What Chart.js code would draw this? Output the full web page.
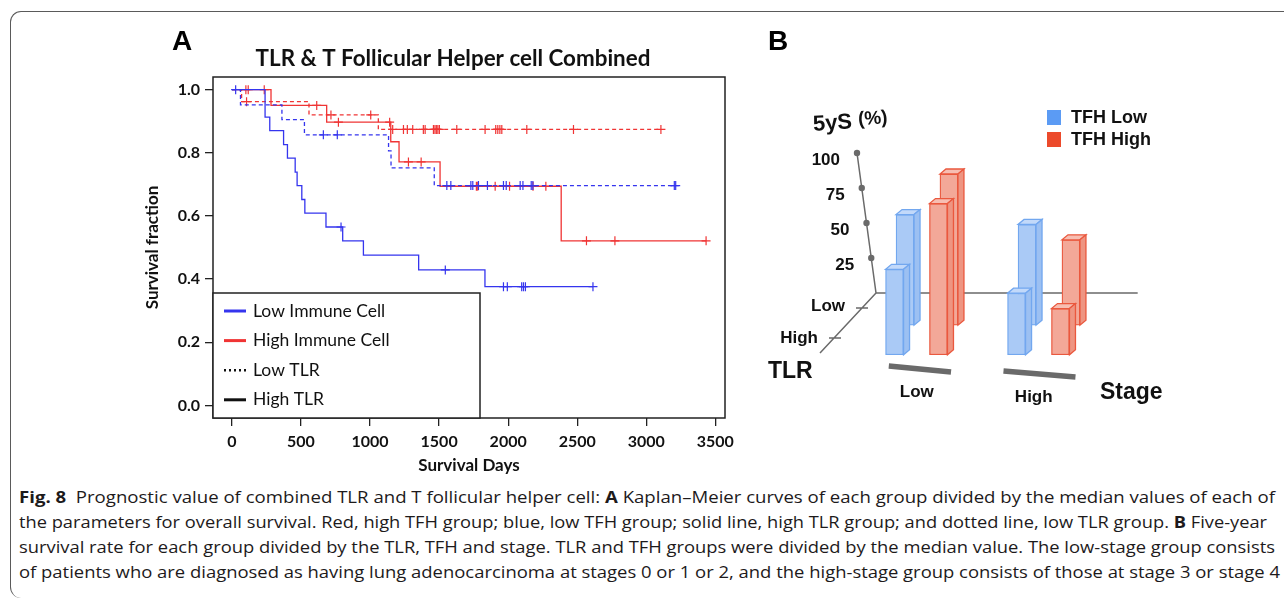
<!DOCTYPE html>
<html>
<head>
<meta charset="utf-8">
<script src="https://cdn.jsdelivr.net/npm/chart.js@4.4.1/dist/chart.umd.min.js"></script>
<style>
html, body { margin: 0; padding: 0; background: #fff; }
body { width: 1284px; height: 599px; position: relative; overflow: hidden; }
#frame { position: absolute; left: 10px; top: 11px; width: 1300px; height: 586px;
  border-left: 1.3px solid #5a5a5a; border-top: 1.3px solid #5a5a5a;
  border-top-left-radius: 11px; border-bottom-left-radius: 11px; }
#km { position: absolute; left: 0; top: 0; }
#bars { position: absolute; left: 740px; top: 0; }
.cap { position: absolute; left: 19px; white-space: nowrap; font-family: 'Open Sans', sans-serif;
  font-size: 15.5px; line-height: 20px; color: #1d1a1b; transform-origin: 0 50%; }
.cap b { font-weight: 700; }
</style>
</head>
<body>
<div id="frame"></div>
<canvas id="km" width="760" height="480"></canvas>
<canvas id="bars" width="544" height="420"></canvas>

<div class="cap" style="top:487px" data-w="1256"><b>Fig. 8</b>&nbsp; Prognostic value of combined TLR and T follicular helper cell: <b>A</b> Kaplan–Meier curves of each group divided by the median values of each of</div>
<div class="cap" style="top:512px" data-w="1248">the parameters for overall survival. Red, high TFH group; blue, low TFH group; solid line, high TLR group; and dotted line, low TLR group. <b>B</b> Five-year</div>
<div class="cap" style="top:537px" data-w="1256">survival rate for each group divided by the TLR, TFH and stage. TLR and TFH groups were divided by the median value. The low-stage group consists</div>
<div class="cap" style="top:562px" data-w="1261">of patients who are diagnosed as having lung adenocarcinoma at stages 0 or 1 or 2, and the high-stage group consists of those at stage 3 or stage 4</div>

<script>
// ---- Panel A: Kaplan–Meier curves ----
const xTicks = [0, 500, 1000, 1500, 2000, 2500, 3000, 3500];
const yTicks = [0, 0.2, 0.4, 0.6, 0.8, 1.0];

// blue solid: low TFH, high TLR
const lowTfhHighTlrDays = [0, 240, 274, 374, 402, 458, 472, 506, 528, 681, 802, 952, 1352, 1832, 2614];
const lowTfhHighTlrSurv = [1, 0.913, 0.870, 0.826, 0.783, 0.739, 0.696, 0.652, 0.609, 0.565, 0.521, 0.476, 0.429, 0.376, 0.376];
const lowTfhHighTlrCens = [27, 790, 1545, 1966, 1994, 2098, 2111, 2125, 2614];

// blue dashed: low TFH, low TLR
const lowTfhLowTlrDays = [0, 62, 362, 525, 1134, 1152, 1465, 3213];
const lowTfhLowTlrSurv = [1, 0.952, 0.905, 0.857, 0.806, 0.752, 0.696, 0.696];
const lowTfhLowTlrCens = [662, 763, 1556, 1585, 1730, 1744, 1785, 1850, 1966, 1986, 2087, 2107, 2167, 2179, 3203, 3213];

// red dashed: high TFH, low TLR
const highTfhLowTlrDays = [0, 70, 558, 1060, 3106];
const highTfhLowTlrSurv = [1, 0.962, 0.920, 0.874, 0.874];
const highTfhLowTlrCens = [106, 717, 1005, 1164, 1242, 1270, 1309, 1386, 1399, 1459, 1470, 1480, 1491, 1502,
  1628, 1833, 1910, 1925, 1940, 1954, 2135, 2473, 3106];

// red solid: high TFH, high TLR
const highTfhHighTlrDays = [0, 283, 686, 1150, 1210, 1507, 2384, 3433];
const highTfhHighTlrSurv = [1, 0.950, 0.897, 0.835, 0.771, 0.694, 0.521, 0.521];
const highTfhHighTlrCens = [101, 118, 234, 614, 771, 1142, 1278, 1370, 1770, 1780, 1906, 2010, 2180, 2273,
  2567, 2773, 3433];

const kmLegendNames = ['Low Immune Cell', 'High Immune Cell', 'Low TLR', 'High TLR'];

// ---- Panel B: five-year survival (%) by stage ----
const stages = ['Low', 'High'];
const tfhLowLowTlr = [56, 49];
const tfhHighLowTlr = [85, 38];
const tfhLowHighTlr = [49, 32];
const tfhHighHighTlr = [96, 21];
const survTicks = [25, 50, 75, 100];
const tfhNames = ['TFH Low', 'TFH High'];
const tlrNames = ['Low', 'High'];

Chart.defaults.font.family = 'Lato';
Chart.defaults.color = '#111';

const BLUE = '#3535ee';
const RED = '#f03434';

// survival value in effect at day t
function survAt(days, surv, t) {
  let s = surv[0];
  for (let i = 0; i < days.length; i++) if (days[i] <= t) s = surv[i];
  return s;
}

const groups = [
  { days: lowTfhHighTlrDays, surv: lowTfhHighTlrSurv, cens: lowTfhHighTlrCens, color: BLUE, dash: [] },
  { days: lowTfhLowTlrDays, surv: lowTfhLowTlrSurv, cens: lowTfhLowTlrCens, color: BLUE, dash: [4, 3] },
  { days: highTfhLowTlrDays, surv: highTfhLowTlrSurv, cens: highTfhLowTlrCens, color: RED, dash: [4, 3] },
  { days: highTfhHighTlrDays, surv: highTfhHighTlrSurv, cens: highTfhHighTlrCens, color: RED, dash: [] }
];

const kmDatasets = [];
groups.forEach(g => {
  kmDatasets.push({
    data: g.days.map((d, i) => ({ x: d, y: g.surv[i] })),
    showLine: true, stepped: 'before', borderColor: g.color, borderWidth: 1.3,
    borderDash: g.dash, pointRadius: 0
  });
  kmDatasets.push({
    data: g.cens.map(d => ({ x: d, y: survAt(g.days, g.surv, d) })),
    showLine: false, pointStyle: 'cross', pointRadius: 4.5, borderWidth: 1.2,
    borderColor: g.color, backgroundColor: g.color
  });
});

const kmDecor = {
  id: 'kmDecor',
  afterDatasetsDraw(chart) {
    const { ctx, chartArea: a } = chart;
    ctx.save();
    // plot frame
    ctx.strokeStyle = '#222';
    ctx.lineWidth = 1.5;
    ctx.strokeRect(a.left, a.top, a.right - a.left, a.bottom - a.top);

    // legend box in the lower-left corner
    const lx = a.left, ly = 293, lw = 267, lh = a.bottom - ly;
    ctx.fillStyle = '#fff';
    ctx.fillRect(lx, ly, lw, lh);
    ctx.strokeRect(lx, ly, lw, lh);
    const samples = [
      { c: BLUE, dash: [], w: 3 }, { c: RED, dash: [], w: 3 },
      { c: '#111', dash: [2, 3], w: 2.5 }, { c: '#111', dash: [], w: 3 }
    ];
    ctx.font = '17.5px Lato';
    ctx.textBaseline = 'middle';
    kmLegendNames.forEach((name, i) => {
      const y = ly + 18 + i * 29.6;
      ctx.beginPath();
      ctx.setLineDash(samples[i].dash);
      ctx.strokeStyle = samples[i].c;
      ctx.lineWidth = samples[i].w;
      ctx.moveTo(lx + 11, y);
      ctx.lineTo(lx + 33, y);
      ctx.stroke();
      ctx.setLineDash([]);
      ctx.fillStyle = '#111';
      ctx.fillText(name, lx + 40, y);
    });

    // panel letter and title
    ctx.fillStyle = '#000';
    ctx.textAlign = 'center';
    ctx.font = 'bold 28px "Liberation Sans"';
    ctx.fillText('A', 182, 42);
    const title = 'TLR & T Follicular Helper cell Combined';
    ctx.font = 'bold 19px Lato';
    const size = 19 * 395 / ctx.measureText(title).width;
    ctx.font = 'bold ' + size.toFixed(1) + 'px Lato';
    ctx.fillStyle = '#111';
    ctx.fillText(title, 453, 59);
    ctx.restore();
  }
};

const tickFont = { family: 'Lato', weight: 'bold', size: 16 };
const titleFont = { family: 'Lato', weight: 'bold', size: 17 };

new Chart(document.getElementById('km'), {
  type: 'scatter',
  data: { datasets: kmDatasets },
  options: {
    responsive: false,
    animation: false,
    events: [],
    layout: { padding: { left: 142, right: 35, top: 77, bottom: 4 } },
    plugins: { legend: { display: false }, tooltip: { enabled: false } },
    scales: {
      x: {
        type: 'linear', min: -137, max: 3570,
        afterBuildTicks: s => { s.ticks = xTicks.map(v => ({ value: v })); },
        afterFit: s => { s.height = 58; s.paddingLeft = 0; s.paddingRight = 0; },
        grid: { drawOnChartArea: false, tickLength: 8, color: '#222', lineWidth: 1.3 },
        border: { display: false },
        ticks: { padding: 6, font: tickFont, maxRotation: 0, autoSkip: false, color: '#111',
          callback: v => String(v) },
        title: { display: true, text: 'Survival Days', font: titleFont, padding: 0, color: '#111' }
      },
      y: {
        type: 'linear', min: -0.04, max: 1.04,
        afterBuildTicks: s => { s.ticks = yTicks.map(v => ({ value: v })); },
        afterFit: s => { s.width = 71; s.paddingTop = 0; s.paddingBottom = 0; },
        grid: { drawOnChartArea: false, tickLength: 8, color: '#222', lineWidth: 1.3 },
        border: { display: false },
        ticks: { padding: 5, font: tickFont, color: '#111', callback: v => v.toFixed(1) },
        title: { display: true, text: 'Survival fraction', font: titleFont, padding: 0, color: '#111' }
      }
    }
  },
  plugins: [kmDecor]
});

// ---- Panel B: pseudo-3D bar chart ----
const TFH_STYLE = [
  { face: '#aacaf6', edge: '#72a7ef', side: '#9cc0f2', top: '#c2d9fa', key: '#5b9bf4' },
  { face: '#f3a898', edge: '#ea583e', side: '#ee9582', top: '#f7beb2', key: '#ec4a2b' }
];
const TFH_SHIFT = 0.18;     // left/right offset of TFH groups within a stage
const DEPTH_SHIFT = 0.043;  // back row sits slightly to the right
const FLOOR = { yBack: -23, yFront: -12 };

function barSet(values, tfh, back) {
  const axis = back ? 'yBack' : 'yFront';
  const st = TFH_STYLE[tfh];
  return {
    yAxisID: axis,
    tfh: tfh,
    data: values.map((v, s) => ({
      x: s + (tfh ? TFH_SHIFT : -TFH_SHIFT) + (back ? DEPTH_SHIFT : -DEPTH_SHIFT),
      y: [FLOOR[axis], v]
    })),
    backgroundColor: st.face, borderColor: st.edge, borderWidth: 1.3,
    borderSkipped: false, barThickness: 18, grouped: false
  };
}

// front row first so it is painted last
const barDatasets = [
  barSet(tfhLowHighTlr, 0, false),
  barSet(tfhHighHighTlr, 1, false),
  barSet(tfhLowLowTlr, 0, true),
  barSet(tfhHighLowTlr, 1, true)
];

const DX = 6, DY = 5;

const bars3d = {
  id: 'bars3d',
  beforeDatasetsDraw(chart) {
    const { ctx, scales } = chart;
    const xs = scales.x, yb = scales.yBack;
    const ox = xs.getPixelForValue(-0.375), oy = yb.getPixelForValue(0);
    const lean = 0.19;
    ctx.save();
    ctx.strokeStyle = '#6a6a6a';
    ctx.lineWidth = 1.5;
    ctx.beginPath();
    // value axis
    ctx.moveTo(ox, oy);
    ctx.lineTo(ox - lean * 100, yb.getPixelForValue(100));
    // stage axis
    ctx.moveTo(ox, oy);
    ctx.lineTo(xs.getPixelForValue(1.77), oy);
    // TLR axis
    ctx.moveTo(ox, oy);
    ctx.lineTo(ox - 56, oy + 60);
    // TLR ticks
    ctx.moveTo(ox - 20, oy + 15); ctx.lineTo(ox - 8, oy + 15);
    ctx.moveTo(ox - 47, oy + 45); ctx.lineTo(ox - 35, oy + 45);
    ctx.stroke();

    ctx.fillStyle = '#6a6a6a';
    ctx.textAlign = 'right';
    ctx.textBaseline = 'middle';
    survTicks.forEach(v => {
      const px = ox - lean * v, py = yb.getPixelForValue(v);
      ctx.fillStyle = '#6a6a6a';
      ctx.beginPath();
      ctx.arc(px, py, 3.2, 0, Math.PI * 2);
      ctx.fill();
      ctx.fillStyle = '#111';
      ctx.font = 'bold 17px "Liberation Sans"';
      ctx.fillText(String(v), px - 17, py + 7);
    });

    ctx.font = 'bold 17px "Liberation Sans"';
    ctx.fillText(tlrNames[0], ox - 31, oy + 13);
    ctx.fillText(tlrNames[1], ox - 58, oy + 45);
    ctx.textAlign = 'left';
    ctx.font = 'bold 23px "Liberation Sans"';
    ctx.fillText('TLR', ox - 108, oy + 79);

    // value axis caption, slightly tilted
    ctx.save();
    ctx.translate(ox - 63, oy - 168);
    ctx.rotate(-0.07);
    ctx.font = 'bold 22px "Liberation Sans"';
    ctx.fillText('5yS', 0, 0);
    const w = ctx.measureText('5yS ').width;
    ctx.font = 'bold 19px "Liberation Sans"';
    ctx.fillText('(%)', w, -2);
    ctx.restore();

    ctx.restore();
  },
  afterDatasetDraw(chart, args) {
    const { ctx } = chart;
    const ds = chart.data.datasets[args.index];
    const st = TFH_STYLE[ds.tfh];
    ctx.save();
    ctx.lineWidth = 1.3;
    ctx.strokeStyle = st.edge;
    args.meta.data.forEach(bar => {
      const p = bar.getProps(['x', 'y', 'base', 'width'], true);
      const L = p.x - p.width / 2, R = p.x + p.width / 2;
      const T = Math.min(p.y, p.base), B = Math.max(p.y, p.base);
      // top face
      ctx.beginPath();
      ctx.moveTo(L, T); ctx.lineTo(R, T); ctx.lineTo(R + DX, T - DY); ctx.lineTo(L + DX, T - DY);
      ctx.closePath();
      ctx.fillStyle = st.top; ctx.fill(); ctx.stroke();
      // right face
      ctx.beginPath();
      ctx.moveTo(R, T); ctx.lineTo(R + DX, T - DY); ctx.lineTo(R + DX, B - DY); ctx.lineTo(R, B);
      ctx.closePath();
      ctx.fillStyle = st.side; ctx.fill(); ctx.stroke();
    });
    ctx.restore();
  },
  afterDraw(chart) {
    const { ctx, scales } = chart;
    const xs = scales.x;
    ctx.save();
    // stage markers and labels
    ctx.strokeStyle = '#6a6a6a';
    ctx.lineWidth = 5.5;
    ctx.lineCap = 'butt';
    const marks = [[-0.27, 0.24, 366, 372], [-0.33, 0.26, 371, 377]];
    ctx.fillStyle = '#111';
    ctx.font = 'bold 17px "Liberation Sans"';
    ctx.textAlign = 'center';
    ctx.textBaseline = 'middle';
    stages.forEach((name, s) => {
      const m = marks[s];
      ctx.beginPath();
      ctx.moveTo(xs.getPixelForValue(s + m[0]), m[2]);
      ctx.lineTo(xs.getPixelForValue(s + m[1]), m[3]);
      ctx.stroke();
      ctx.fillText(name, xs.getPixelForValue(s) - (s ? 10 : 5), s ? 397 : 392);
    });
    ctx.textAlign = 'left';
    ctx.font = 'bold 23px "Liberation Sans"';
    ctx.fillText('Stage', 360, 393);

    // legend
    ctx.font = 'bold 18px "Liberation Sans"';
    tfhNames.forEach((name, i) => {
      const y = 110 + i * 22;
      ctx.fillStyle = TFH_STYLE[i].key;
      ctx.fillRect(307, y, 14, 15);
      ctx.fillStyle = '#111';
      ctx.fillText(name, 331, y + 8);
    });

    ctx.fillStyle = '#000';
    ctx.textAlign = 'center';
    ctx.font = 'bold 28px "Liberation Sans"';
    ctx.fillText('B', 38, 42);
    ctx.restore();
  }
};

new Chart(document.getElementById('bars'), {
  type: 'bar',
  data: { datasets: barDatasets },
  options: {
    responsive: false,
    animation: false,
    events: [],
    layout: { padding: 0 },
    plugins: { legend: { display: false }, tooltip: { enabled: false } },
    scales: {
      x: { type: 'linear', display: false, offset: false, min: -1.4898, max: 2.9693 },
      yBack: { type: 'linear', display: false, min: -90.7, max: 209.3 },
      yFront: { type: 'linear', display: false, min: -58.6, max: 241.4 }
    }
  },
  plugins: [bars3d]
});

// caption lines are set to the column width
document.querySelectorAll('.cap').forEach(el => {
  const target = +el.dataset.w;
  const w = el.getBoundingClientRect().width;
  el.style.transform = 'scaleX(' + (target / w).toFixed(4) + ')';
});
</script>
</body>
</html>
